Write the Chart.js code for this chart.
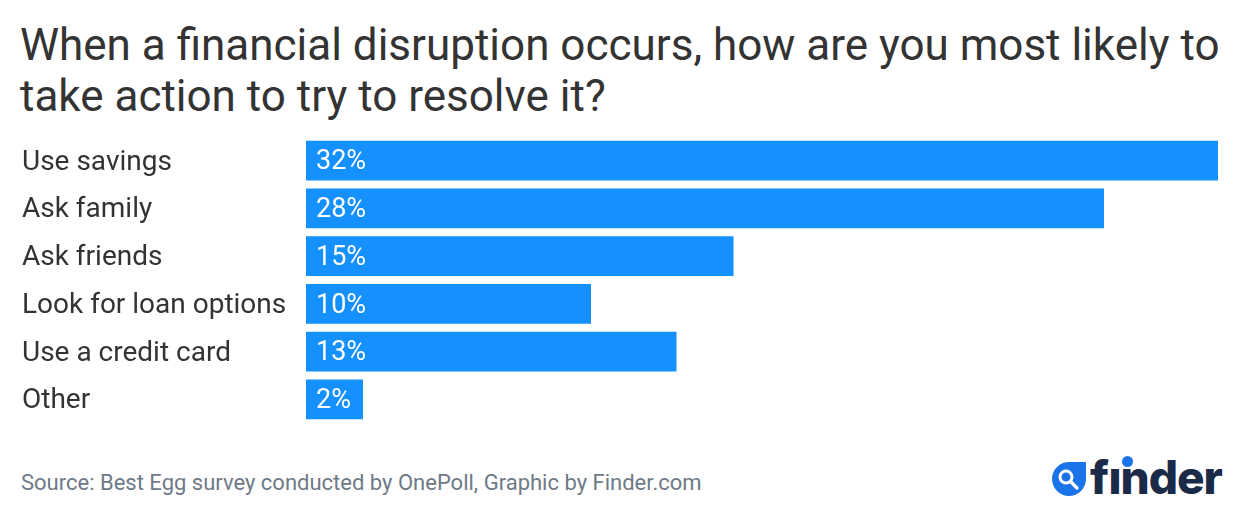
<!DOCTYPE html>
<html><head><meta charset="utf-8">
<script src="https://cdn.jsdelivr.net/npm/chart.js@4"></script>
<style>
html,body{margin:0;padding:0;background:#fff;width:1240px;height:526px;overflow:hidden;font-family:Roboto,sans-serif;}
#title{position:absolute;left:20px;top:20px;font-size:44px;line-height:51px;color:#333;letter-spacing:0;}
#wrap{position:absolute;left:0;top:120px;width:1240px;height:320px;}
#source{position:absolute;left:21px;top:470px;font-size:22px;color:#6e7a87;}
#logo{position:absolute;left:1052px;top:452px;width:180px;height:56px;}
#drop{position:absolute;left:0;top:10px;width:34px;height:34px;background:#1a73e8;border-radius:50% 0 50% 50%;}
#word{position:absolute;left:38px;top:-3px;font-family:Inter,Roboto,sans-serif;font-weight:800;font-size:46px;color:#1b2a47;letter-spacing:-1px;}
#dot{position:absolute;left:70px;top:4px;width:11px;height:11px;border-radius:50%;background:#1a73e8;}
</style></head>
<body>
<div id="title">When a financial disruption occurs, how are you most likely to<br>take action to try to resolve it?</div>
<div id="wrap"><canvas id="c"></canvas></div>
<div id="source">Source: Best Egg survey conducted by OnePoll, Graphic by Finder.com</div>
<div id="logo">
  <div id="drop"><svg width="34" height="34" viewBox="0 0 34 34"><circle cx="14" cy="15" r="6" fill="none" stroke="#fff" stroke-width="3"/><line x1="18.5" y1="19.5" x2="25" y2="26" stroke="#fff" stroke-width="3.2" stroke-linecap="round"/></svg></div>
  <div id="word">fınder</div>
  <div id="dot"></div>
</div>
<script>
const categories = ["Use savings","Ask family","Ask friends","Look for loan options","Use a credit card","Other"];
const values = [32,28,15,10,13,2];
const valueLabels = ["32%","28%","15%","10%","13%","2%"];

const labelPlugin = {
  id:'barLabels',
  afterDatasetsDraw(chart){
    const ctx = chart.ctx;
    const meta = chart.getDatasetMeta(0);
    ctx.save();
    ctx.font = '27px Roboto';
    ctx.fillStyle = '#ffffff';
    ctx.textBaseline = 'middle';
    ctx.textAlign = 'left';
    meta.data.forEach((bar,i)=>{
      ctx.fillText(valueLabels[i], bar.base + 10, bar.y + 2);
    });
    ctx.restore();
  }
};

new Chart(document.getElementById('c'), {
  type:'bar',
  data:{labels:categories,datasets:[{data:values,backgroundColor:'#1491ff',borderWidth:0,categoryPercentage:40/48,barPercentage:1}]},
  options:{
    indexAxis:'y',
    responsive:true,maintainAspectRatio:false,animation:false,
    layout:{padding:{left:22,right:22,top:16,bottom:16}},
    plugins:{legend:{display:false},tooltip:{enabled:false}},
    scales:{
      x:{display:false,min:0,max:32},
      y:{
        grid:{display:false},border:{display:false},
        ticks:{crossAlign:'far',color:'#333',font:{family:'Roboto',size:28},padding:0,labelOffset:2},
        afterFit(scale){scale.width = 284;}
      }
    }
  },
  plugins:[labelPlugin]
});
</script>
</body></html>
